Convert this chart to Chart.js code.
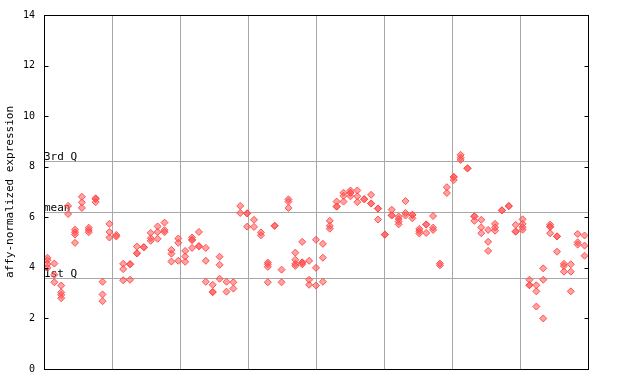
<!DOCTYPE html>
<html>
<head>
<meta charset="utf-8">
<script src="https://cdn.jsdelivr.net/npm/chart.js@4/dist/chart.umd.min.js"></script>
<style>
  html, body { margin: 0; padding: 0; background: #fff; }
  #wrap { width: 640px; height: 384px; }
</style>
</head>
<body>
<div id="wrap"><canvas id="exprChart" width="640" height="384"></canvas></div>
<script>
// expression values per sample column (replicates), left to right
const samples = [
    [4.4, 4.3, 4.15, 4.0], [4.17, 3.73, 3.43], [3.30, 3.03, 2.93, 2.80], [6.45, 6.13],
    [5.51, 5.41, 5.32, 4.99], [6.81, 6.59, 6.37], [5.59, 5.50, 5.41], [6.75, 6.72, 6.6],
    [3.45, 2.95, 2.68], [5.74, 5.42, 5.20], [5.30, 5.24], [4.16, 3.95, 3.51],
    [4.15, 4.14, 3.53], [4.84, 4.58, 4.57], [4.82, 4.81], [5.38, 5.17, 5.07],
    [5.64, 5.42, 5.15], [5.79, 5.49, 5.41], [4.71, 4.56, 4.25], [5.16, 4.99, 4.28],
    [4.67, 4.45, 4.24], [5.20, 5.11, 5.10, 4.79], [5.42, 4.86, 4.85], [4.79, 4.28, 3.45],
    [3.33, 3.05, 3.04], [4.44, 4.12, 3.57], [3.45, 3.06], [3.43, 3.18],
    [6.45, 6.17], [6.16, 6.15, 5.63], [5.90, 5.62], [5.40, 5.29],
    [4.21, 4.14, 4.04, 3.43], [5.67, 5.66], [3.93, 3.43], [6.71, 6.62, 6.37],
    [4.60, 4.32, 4.16, 4.08], [5.03, 4.22, 4.2, 4.14], [4.28, 3.53, 3.33], [5.11, 4.00, 3.30],
    [4.95, 4.40, 3.45], [5.86, 5.66, 5.55], [6.62, 6.43, 6.42], [6.97, 6.85, 6.62],
    [7.06, 6.97, 6.96, 6.83], [7.06, 6.83, 6.60], [6.72, 6.71], [6.89, 6.55, 6.54],
    [6.35, 6.34, 5.91], [5.32, 5.31], [6.30, 6.08, 6.07], [6.03, 5.93, 5.83, 5.72],
    [6.64, 6.17, 6.07], [6.10, 6.09, 5.96], [5.54, 5.45, 5.36], [5.72, 5.71, 5.38],
    [6.05, 5.59, 5.50], [4.17, 4.10], [7.19, 6.96], [7.60, 7.59, 7.47],
    [8.47, 8.36, 8.27], [7.94, 7.93], [6.04, 6.03, 5.86], [5.90, 5.60, 5.37],
    [5.50, 5.03, 4.67], [5.74, 5.60, 5.47], [6.28, 6.27], [6.45, 6.44],
    [5.70, 5.44, 5.43], [5.92, 5.74, 5.61, 5.51], [3.53, 3.32, 3.31], [3.31, 3.07, 2.47],
    [3.98, 3.53, 2.00], [5.71, 5.63, 5.62, 5.37], [5.25, 5.24, 4.64], [4.16, 4.07, 3.85],
    [4.14, 3.85, 3.07], [5.34, 5.01, 4.92], [5.28, 4.88, 4.48]
];

// summary lines
const statLabels = ['3rd Q', 'mean', '1st Q'];
const statValues = [8.22, 6.21, 3.61];

// y axis
const yTicks = [0, 2, 4, 6, 8, 10, 12, 14];
const groupCount = 8;

const points = [];
samples.forEach(function(vals, i) {
    vals.forEach(function(v) {
        points.push({ x: i + 0.5, y: v });
    });
});

const MONO = '"DejaVu Sans Mono", "Liberation Mono", monospace';

// grid lines, stat lines, inner ticks and the frame
const framePlugin = {
    id: 'frame',
    beforeDatasetsDraw: function(chart) {
        const ctx = chart.ctx;
        const area = chart.chartArea;
        const xs = chart.scales.x;
        const ys = chart.scales.y;
        ctx.save();
        ctx.strokeStyle = '#a8a8a8';
        ctx.lineWidth = 1;
        for (let k = 1; k < groupCount; k++) {
            const px = Math.round(xs.getPixelForValue(samples.length * k / groupCount)) + 0.5;
            ctx.beginPath();
            ctx.moveTo(px, area.top);
            ctx.lineTo(px, area.bottom);
            ctx.stroke();
        }
        ctx.font = '11px ' + MONO;
        ctx.textBaseline = 'bottom';
        ctx.textAlign = 'left';
        statValues.forEach(function(v, i) {
            const py = Math.round(ys.getPixelForValue(v)) + 0.5;
            ctx.strokeStyle = '#a8a8a8';
            ctx.beginPath();
            ctx.moveTo(area.left, py);
            ctx.lineTo(area.right, py);
            ctx.stroke();
            ctx.fillStyle = '#000';
            ctx.fillText(statLabels[i], area.left, py + 1);
        });
        ctx.restore();
    },
    afterDraw: function(chart) {
        const ctx = chart.ctx;
        const area = chart.chartArea;
        const ys = chart.scales.y;
        ctx.save();
        ctx.strokeStyle = '#000';
        ctx.lineWidth = 1;
        const l = Math.round(area.left) + 0.5;
        const r = Math.round(area.right) + 0.5;
        const t = Math.round(area.top) + 0.5;
        const b = Math.round(area.bottom) + 0.5;
        ctx.strokeRect(l, t, r - l, b - t);
        yTicks.forEach(function(v) {
            const py = Math.round(ys.getPixelForValue(v)) + 0.5;
            ctx.beginPath();
            ctx.moveTo(l, py);
            ctx.lineTo(l + 4, py);
            ctx.moveTo(r, py);
            ctx.lineTo(r - 4, py);
            ctx.stroke();
        });
        ctx.restore();
    }
};

new Chart(document.getElementById('exprChart').getContext('2d'), {
    type: 'scatter',
    data: {
        datasets: [{
            data: points,
            pointStyle: 'rectRot',
            pointRadius: 3.5,
            pointHoverRadius: 3.5,
            backgroundColor: 'rgba(255, 85, 85, 0.55)',
            borderColor: 'rgba(255, 70, 70, 0.9)',
            borderWidth: 1
        }]
    },
    options: {
        responsive: false,
        animation: false,
        layout: {
            padding: { top: 13, right: 52, bottom: 15, left: 0 }
        },
        plugins: {
            legend: { display: false },
            tooltip: { enabled: false }
        },
        scales: {
            x: {
                type: 'linear',
                min: 0,
                max: samples.length,
                display: false
            },
            y: {
                min: 0,
                max: 14,
                afterFit: function(scale) { scale.width = 44; },
                afterBuildTicks: function(scale) {
                    scale.ticks = yTicks.map(function(v) { return { value: v }; });
                },
                grid: { display: false, drawTicks: false },
                border: { display: false },
                ticks: {
                    padding: 9,
                    color: '#000',
                    font: { family: MONO, size: 10 }
                },
                title: {
                    display: true,
                    text: 'affy-normalized expression',
                    color: '#000',
                    padding: { top: 4, bottom: 0 },
                    font: { family: MONO, size: 11 }
                }
            }
        }
    },
    plugins: [framePlugin]
});
</script>
</body>
</html>
